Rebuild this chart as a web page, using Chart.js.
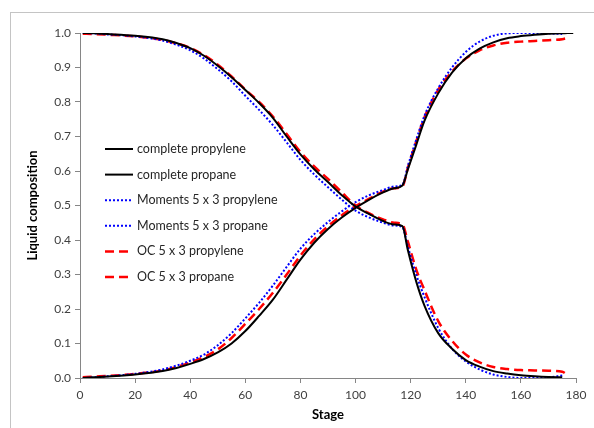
<!DOCTYPE html>
<html>
<head>
<meta charset="utf-8">
<script src="https://cdn.jsdelivr.net/npm/chart.js@4/dist/chart.umd.min.js"></script>
<style>
  html, body { margin: 0; padding: 0; background: #fff; }
  #wrap { position: relative; width: 594px; height: 428px; overflow: hidden; }
  #frame { position: absolute; left: 10px; top: 12px; width: 640px; height: 480px; border: 1px solid #c4c4c4; pointer-events: none; }
</style>
</head>
<body>
<div id="wrap">
  <canvas id="chart" width="594" height="428"></canvas>
  <div id="frame"></div>
</div>
<script>
// --- data ---
const stages = [1, 5, 10, 20, 30, 35, 40, 45, 50, 55, 60, 65, 70, 75, 80, 85, 90, 95, 100, 105, 110, 114, 117, 119, 122, 125, 130, 135, 140, 145, 150, 155, 160, 165, 170, 175, 177, 179];

const completePropylene = [0.0, 0.002, 0.004, 0.01, 0.02, 0.029, 0.041, 0.055, 0.074, 0.1, 0.136, 0.18, 0.227, 0.285, 0.343, 0.392, 0.432, 0.465, 0.493, 0.517, 0.538, 0.55, 0.558, 0.605, 0.675, 0.745, 0.825, 0.885, 0.927, 0.955, 0.973, 0.985, 0.991, 0.995, 0.998, 0.999, 1.0, 1.0];
const completePropane   = [1.0, 0.999, 0.997, 0.992, 0.982, 0.971, 0.956, 0.934, 0.905, 0.872, 0.835, 0.797, 0.754, 0.7, 0.648, 0.605, 0.568, 0.53, 0.497, 0.475, 0.455, 0.445, 0.44, 0.37, 0.28, 0.21, 0.13, 0.085, 0.052, 0.033, 0.02, 0.013, 0.008, 0.005, 0.003, 0.002, null, null];
const momentsPropylene  = [0.0, 0.002, 0.005, 0.012, 0.025, 0.036, 0.05, 0.068, 0.095, 0.13, 0.173, 0.218, 0.268, 0.322, 0.375, 0.417, 0.452, 0.483, 0.51, 0.53, 0.545, 0.555, 0.56, 0.615, 0.69, 0.76, 0.84, 0.9, 0.945, 0.975, 0.992, 0.999, 1.0, 1.0, 0.999, 0.997, null, null];
const momentsPropane    = [1.0, 0.999, 0.996, 0.99, 0.978, 0.966, 0.95, 0.926, 0.895, 0.86, 0.818, 0.777, 0.733, 0.683, 0.632, 0.59, 0.553, 0.517, 0.485, 0.465, 0.45, 0.442, 0.437, 0.38, 0.3, 0.235, 0.145, 0.085, 0.048, 0.025, 0.01, 0.003, 0.0, 0.0, 0.002, 0.007, null, null];
const ocPropylene       = [0.002, 0.004, 0.006, 0.012, 0.022, 0.032, 0.045, 0.061, 0.083, 0.116, 0.157, 0.2, 0.247, 0.3, 0.355, 0.402, 0.44, 0.472, 0.498, 0.52, 0.54, 0.55, 0.555, 0.61, 0.685, 0.755, 0.835, 0.888, 0.926, 0.95, 0.964, 0.972, 0.975, 0.977, 0.979, 0.982, 0.986, null];
const ocPropane         = [0.998, 0.997, 0.995, 0.99, 0.98, 0.97, 0.957, 0.936, 0.908, 0.874, 0.836, 0.8, 0.758, 0.707, 0.655, 0.613, 0.577, 0.538, 0.5, 0.477, 0.46, 0.45, 0.445, 0.395, 0.315, 0.255, 0.165, 0.108, 0.068, 0.045, 0.032, 0.026, 0.023, 0.022, 0.021, 0.018, 0.008, null];

const seriesLabels = ["complete propylene", "complete propane", "Moments 5 x 3 propylene", "Moments 5 x 3 propane", "OC 5 x 3 propylene", "OC 5 x 3 propane"];
const seriesValues = [completePropylene, completePropane, momentsPropylene, momentsPropane, ocPropylene, ocPropane];

const xTicks = [0, 20, 40, 60, 80, 100, 120, 140, 160, 180];

const FONT = "Lato, 'Open Sans', sans-serif";

const styles = [
  { borderColor: "#000000", borderWidth: 2, borderDash: [] },
  { borderColor: "#000000", borderWidth: 2, borderDash: [] },
  { borderColor: "#0000ff", borderWidth: 2, borderDash: [2, 2] },
  { borderColor: "#0000ff", borderWidth: 2, borderDash: [2, 2] },
  { borderColor: "#ff0000", borderWidth: 2.5, borderDash: [9, 5] },
  { borderColor: "#ff0000", borderWidth: 2.5, borderDash: [9, 5] },
];

// pair each stage with its value, dropping stages a series does not reach
const toPoints = (vals) => stages.map((s, i) => ({ x: s, y: vals[i] })).filter((p) => p.y !== null);

const datasets = seriesValues.map((vals, i) => ({
  label: seriesLabels[i],
  data: toPoints(vals),
  pointRadius: 0,
  cubicInterpolationMode: "monotone",
  fill: false,
  ...styles[i],
}));

// legend sits inside the plot, drawn by hand like the Excel original
const insideLegend = {
  id: "insideLegend",
  afterDraw(chart) {
    const ctx = chart.ctx;
    ctx.save();
    chart.data.datasets.forEach((ds, i) => {
      const y = 149 + i * 25.6;
      ctx.beginPath();
      ctx.strokeStyle = ds.borderColor;
      ctx.lineWidth = ds.borderWidth;
      ctx.setLineDash(ds.borderDash || []);
      ctx.moveTo(105, y);
      ctx.lineTo(133, y);
      ctx.stroke();
      ctx.setLineDash([]);
      ctx.fillStyle = "#262626";
      ctx.font = "12.5px " + FONT;
      ctx.textBaseline = "middle";
      ctx.fillText(ds.label, 137, y);
    });
    ctx.restore();
  },
};

new Chart(document.getElementById("chart"), {
  type: "line",
  data: { datasets },
  plugins: [insideLegend],
  options: {
    responsive: false,
    animation: false,
    layout: { padding: { top: 33, right: 18, left: 0, bottom: 0 } },
    plugins: { legend: { display: false }, tooltip: { enabled: false } },
    scales: {
      x: {
        type: "linear",
        min: 0, max: 180,
        afterBuildTicks: (scale) => { scale.ticks = xTicks.map((v) => ({ value: v })); },
        afterFit: (scale) => { scale.height = 50; },
        border: { display: true, color: "#868686", width: 1 },
        grid: { display: true, drawOnChartArea: false, drawTicks: true, tickLength: 5, color: "#868686" },
        ticks: { color: "#404040", font: { family: FONT, size: 12 }, padding: 5, maxRotation: 0 },
        title: { display: true, text: "Stage", color: "#000", font: { family: FONT, size: 13, weight: "bold" }, padding: { top: 2, bottom: 5 } },
      },
      y: {
        min: 0, max: 1,
        afterFit: (scale) => { scale.width = 80; },
        border: { display: true, color: "#868686", width: 1 },
        grid: { display: true, drawOnChartArea: false, drawTicks: true, tickLength: 5, color: "#868686" },
        ticks: { stepSize: 0.1, color: "#404040", font: { family: FONT, size: 12 }, padding: 4, callback: (v) => v.toFixed(1) },
        title: { display: true, text: "Liquid composition", color: "#000", font: { family: FONT, size: 13, weight: "bold" }, padding: { top: 25, bottom: 0 } },
      },
    },
  },
});
</script>
</body>
</html>
